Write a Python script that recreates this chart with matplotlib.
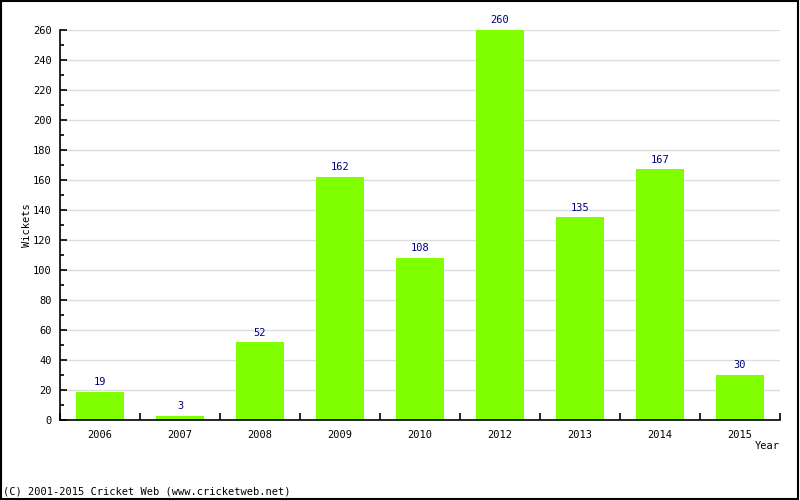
import matplotlib.pyplot as plt
import numpy as np
from matplotlib.ticker import MultipleLocator
from matplotlib.patches import Rectangle

years = ["2006", "2007", "2008", "2009", "2010", "2012", "2013", "2014", "2015"]
wickets = [19, 3, 52, 162, 108, 260, 135, 167, 30]

bar_color = "#80ff00"
label_color = "#000080"
font = "DejaVu Sans Mono"
fs = 7.5

fig = plt.figure(figsize=(8, 5), dpi=100)
ax = fig.add_axes([0.075, 0.16, 0.9, 0.78])

x = np.arange(len(years))
ax.bar(x, wickets, width=0.61, color=bar_color, zorder=2)
for xi, v in zip(x, wickets):
    ax.text(xi, v + 3, str(v), ha="center", va="bottom", color=label_color,
            fontsize=fs, family=font)

ax.set_xlim(-0.5, len(years) - 0.5)
ax.set_ylim(0, 260)
ax.yaxis.set_major_locator(MultipleLocator(20))
ax.yaxis.set_minor_locator(MultipleLocator(10))
ax.grid(axis="y", color="#dddddd", linewidth=1, zorder=0)

ax.set_xticks(x)
ax.set_xticklabels(years, family=font, fontsize=fs)
ax.tick_params(axis="x", length=0, pad=7)
ax.set_xticks(np.arange(len(years) + 1) - 0.5, minor=True)
ax.tick_params(axis="x", which="minor", direction="in", length=5, width=1.2)
ax.tick_params(axis="y", which="major", direction="in", length=5, width=1.2,
               labelsize=fs, pad=6)
ax.tick_params(axis="y", which="minor", direction="in", length=3, width=1.2)
for lbl in ax.get_yticklabels():
    lbl.set_family(font)

for s in ["top", "right"]:
    ax.spines[s].set_visible(False)
ax.spines["left"].set_linewidth(1.2)
ax.spines["bottom"].set_linewidth(1.2)

ax.set_ylabel("Wickets", family=font, fontsize=fs)
ax.yaxis.set_label_coords(-0.039, 0.5)
fig.text(0.975, 0.108, "Year", ha="right", va="center", family=font, fontsize=fs)
fig.text(0.004, 0.016, "(C) 2001-2015 Cricket Web (www.cricketweb.net)",
         ha="left", va="center", family=font, fontsize=fs)

fig.add_artist(Rectangle((0.001, 0.002), 0.997, 0.996, transform=fig.transFigure,
                         fill=False, edgecolor="black", linewidth=1.5))

fig.savefig("out.png", dpi=100)
